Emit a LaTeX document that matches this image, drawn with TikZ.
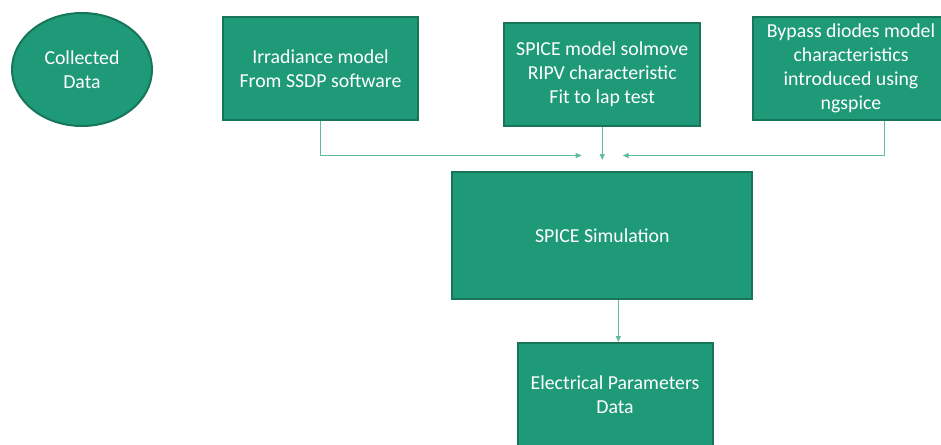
\documentclass[tikz,border=0pt]{standalone}
\usepackage{fontspec}
\setmainfont{Carlito}
\usetikzlibrary{shapes.geometric,arrows.meta,calc}
\definecolor{boxfill}{HTML}{1F9A78}
\definecolor{boxline}{HTML}{17765A}
\definecolor{linkcol}{HTML}{5EBD9E}
\tikzset{
  block/.style={draw=boxline, line width=2pt, fill=boxfill, text=white,
    align=center, inner sep=0pt, font=\fontsize{19.8}{24}\selectfont},
  oval/.style={block, ellipse},
  link/.style={draw=linkcol, line width=0.9pt,
    -{Triangle[length=6pt,width=5pt]}},
}
\begin{document}
\begin{tikzpicture}[x=1pt,y=-1pt]
\useasboundingbox (0,0) rectangle (941,444);
\clip (0,0) rectangle (941,444);

% source blocks
\node[oval, minimum width=140pt, minimum height=113pt] (cd) at (82,69.5) {Collected\\Data};
\node[block, minimum width=195pt, minimum height=103pt] (irr) at (320.5,68.5)
  {Irradiance model\\From SSDP software};
\node[block, minimum width=196pt, minimum height=103pt] (spm) at (602.2,74.2)
  {SPICE model solmove\\RIPV characteristic\\Fit to lap test};
\node[block, minimum width=196pt, minimum height=103pt] (bp) at (851,68.7)
  {Bypass diodes model\\characteristics\\introduced using\\ngspice};

% simulation and result
\node[block, minimum width=300pt, minimum height=127pt] (sim) at (602.3,235.3)
  {SPICE Simulation};
\node[block, minimum width=195pt, minimum height=103pt] (el) at (615,394.5)
  {Electrical Parameters\\Data};

% free ends of the feeding arrows
\coordinate (inL) at (581.7,155.5);
\coordinate (inM) at (602.2,160);
\coordinate (inR) at (622.7,155.5);

\draw[link] (irr.south) |- (inL);
\draw[link] (spm.south) -- (inM);
\draw[link] ([xshift=33.7pt]bp.south) |- (inR);
\draw[link] ([xshift=16pt]sim.south) -- ([xshift=3.3pt]el.north);
\end{tikzpicture}
\end{document}
